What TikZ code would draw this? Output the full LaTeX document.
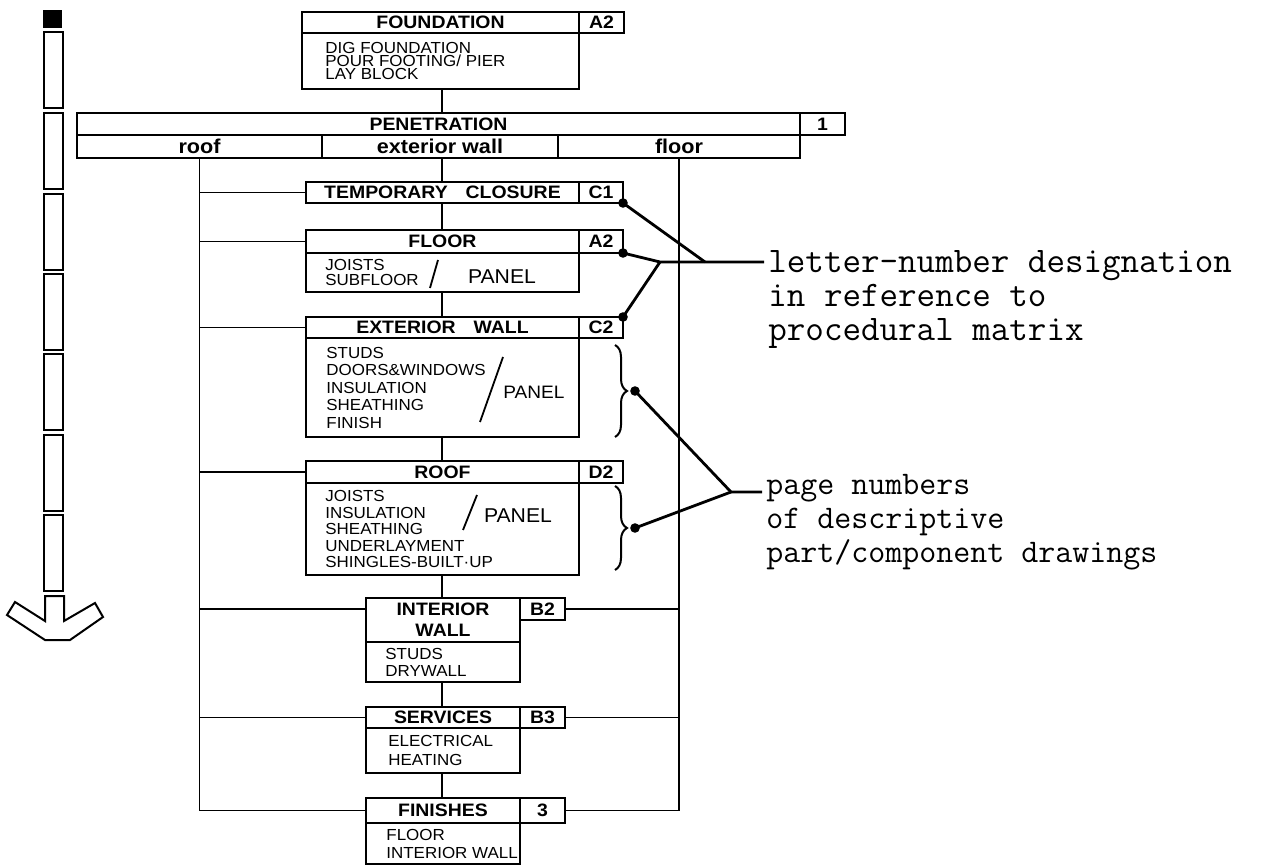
\documentclass[tikz,border=0pt]{standalone}
\usepackage{fontspec}
\setmainfont{Liberation Sans}
\newfontfamily\hdfont[FakeStretch=1.08]{Liberation Sans}
\newfontfamily\handfont[FakeStretch=1.06]{Liberation Sans}
\usetikzlibrary{positioning,decorations.pathreplacing}

\tikzset{
  hdr/.style={draw,line width=1pt,inner sep=0pt,outer sep=0pt,anchor=north west,align=center,
    font=\hdfont\bfseries\fontsize{9}{10.5}\selectfont},
  cbox/.style={hdr},
  cell/.style={hdr,font=\hdfont\bfseries\fontsize{10}{12}\selectfont},
  bod/.style={draw,line width=1pt,inner sep=0pt,outer sep=0pt,anchor=north west},
  sz/.style 2 args={minimum width=#1*0.5pt,minimum height=#2*0.5pt},
  items/.style={inner sep=0pt,align=left,font=\handfont\fontsize{8}{#1}\selectfont},
  items/.default=8.5pt,
  panel/.style={inner sep=0pt,font=\handfont\fontsize{#1}{#1}\selectfont},
  note/.style={inner sep=0pt,anchor=north west,align=left,font=\ttfamily\fontsize{#1}{17}\selectfont},
  wire/.style={line width=0.8pt},
  lead/.style={line width=1.4pt},
  brc/.style={line width=1pt,decorate,decoration={brace,amplitude=6pt}},
}

\begin{document}
\begin{tikzpicture}[x=0.5pt,y=-0.5pt]
  \useasboundingbox (0,0) rectangle (1278,865);

  % sequence arrow
  \fill (43,10) rectangle (62,28);
  \foreach \t in {32,113,194,274,354,435,515}
    \draw[line width=1pt] (44,\t) rectangle (63,{\t+76});
  \draw[line width=1pt] (45,596) -- (45,621) -- (15,602) -- (7,615) -- (45,640) -- (70,640)
    -- (103,617) -- (95,603) -- (64,621) -- (64,596) -- cycle;

  \coordinate (spine) at (442,0);

  % foundation
  \node[hdr,sz={277}{21}] (fnd) at (302,12) {FOUNDATION};
  \node[cbox,sz={45}{21}] (fnd-no) at (fnd.north east) {A2};
  \node[bod,sz={277}{56}] (fnd-body) at (fnd.south west) {};
  \node[items=6.5pt,right=11.5pt of fnd-body.west] (fnd-txt) {DIG FOUNDATION\\POUR FOOTING/ PIER\\LAY BLOCK};

  % penetration
  \node[hdr,sz={723}{22}] (pen) at (77,113) {PENETRATION};
  \node[cbox,sz={45}{22}] (pen-no) at (pen.north east) {1};
  \node[cell,sz={245}{23}] (pen-roof) at (pen.south west) {roof};
  \node[cell,sz={236}{23}] (pen-ext) at (pen-roof.north east) {exterior wall};
  \node[cell,sz={242}{23}] (pen-floor) at (pen-ext.north east) {floor};

  % temporary closure
  \node[hdr,sz={273}{21}] (tc) at (306,182) {TEMPORARY\quad CLOSURE};
  \node[cbox,sz={44}{21}] (tc-no) at (tc.north east) {C1};

  % floor
  \node[hdr,sz={273}{23}] (flr) at (306,230) {FLOOR};
  \node[cbox,sz={44}{23}] (flr-no) at (flr.north east) {A2};
  \node[bod,sz={273}{39}] (flr-body) at (flr.south west) {};
  \node[items=7.5pt,right=9.5pt of flr-body.west] (flr-txt) {JOISTS\\SUBFLOOR};
  \node[panel=10] (flr-pnl) at (502,277) {PANEL};
  \draw[line width=0.9pt] (430,288) -- (438,260);

  % exterior wall
  \node[hdr,sz={273}{21}] (ext) at (306,317) {EXTERIOR\quad WALL};
  \node[cbox,sz={44}{21}] (ext-no) at (ext.north east) {C2};
  \node[bod,sz={273}{99}] (ext-body) at (ext.south west) {};
  \node[items=8.75pt,right=10pt of ext-body.west] (ext-txt) {STUDS\\DOORS\&WINDOWS\\INSULATION\\SHEATHING\\FINISH};
  \node[panel=9] (ext-pnl) at (534,392) {PANEL};
  \draw[line width=0.9pt] (480,422) -- (503,357);

  % roof
  \node[hdr,sz={273}{22}] (rf) at (306,461) {ROOF};
  \node[cbox,sz={44}{22}] (rf-no) at (rf.north east) {D2};
  \node[bod,sz={273}{92}] (rf-body) at (rf.south west) {};
  \node[items=8.25pt,right=9.5pt of rf-body.west] (rf-txt) {JOISTS\\INSULATION\\SHEATHING\\UNDERLAYMENT\\SHINGLES-BUILT·UP};
  \node[panel=10] (rf-pnl) at (518,516) {PANEL};
  \draw[line width=0.9pt] (463,530) -- (477,495);

  % interior wall
  \node[hdr,sz={154}{44}] (int) at (366,598) {INTERIOR\\WALL};
  \node[cbox,sz={45}{22}] (int-no) at (int.north east) {B2};
  \node[bod,sz={154}{40}] (int-body) at (int.south west) {};
  \node[items=8.5pt,right=9.5pt of int-body.west] (int-txt) {STUDS\\DRYWALL};

  % services
  \node[hdr,sz={154}{21}] (srv) at (366,707) {SERVICES};
  \node[cbox,sz={45}{21}] (srv-no) at (srv.north east) {B3};
  \node[bod,sz={154}{45}] (srv-body) at (srv.south west) {};
  \node[items=9.5pt,right=11pt of srv-body.west] (srv-txt) {ELECTRICAL\\HEATING};

  % finishes
  \node[hdr,sz={154}{25}] (fin) at (366,798) {FINISHES};
  \node[cbox,sz={45}{25}] (fin-no) at (fin.north east) {3};
  \node[bod,sz={154}{41}] (fin-body) at (fin.south west) {};
  \node[items=9pt,right=10pt of fin-body.west] (fin-txt) {FLOOR\\INTERIOR WALL};

  % links
  \draw[wire] (fnd-body.south -| spine) -- (pen.north -| spine);
  \foreach \a/\b in {pen-ext/tc,tc/flr,flr-body/ext,ext-body/rf,rf-body/int,int-body/srv,srv-body/fin}
    \draw[wire] (\a.south -| spine) -- (\b.north -| spine);
  \draw[wire] (pen-roof.south) |- (fin.west);
  \draw[wire] (pen-floor.south) |- (fin-no.east);
  \foreach \b in {tc,flr,ext,rf,srv}
    \draw[wire] (\b.west) -- (\b.west -| pen-roof.south);
  \draw[wire] (int.west |- int-no.west) -- (pen-roof.south |- int-no.west);
  \draw[wire] (int-no.east) -- (int-no.east -| pen-floor.south);
  \draw[wire] (srv-no.east) -- (srv-no.east -| pen-floor.south);

  % notes
  \coordinate (jA) at (660,262);
  \coordinate (jB) at (705,262);
  \node[note=18] (ltr) at (768,250) {letter-number designation\\in reference to\\procedural matrix};
  \draw[lead] (tc-no.south east) -- (jB);
  \draw[lead] (flr-no.south east) -- (jA) -- ([xshift=-2pt]jA -| ltr.west);
  \draw[lead] (ext-no.north east) -- (jA);
  \foreach \p in {tc-no.south east,flr-no.south east,ext-no.north east}
    \fill (\p) circle[radius=2.4pt];

  \draw[brc] (615,345) -- (615,437);
  \draw[brc] (615,486) -- (615,570);
  \coordinate (eb) at (635,391);
  \coordinate (rb) at (635,528);
  \coordinate (jC) at (731,492);
  \node[note=16.5] (pg) at (766,474) {page numbers\\of descriptive\\part/component drawings};
  \draw[lead] (eb) -- (jC) -- ([xshift=-2pt]jC -| pg.west);
  \draw[lead] (rb) -- (jC);
  \fill (eb) circle[radius=2.4pt];
  \fill (rb) circle[radius=2.4pt];
\end{tikzpicture}
\end{document}
